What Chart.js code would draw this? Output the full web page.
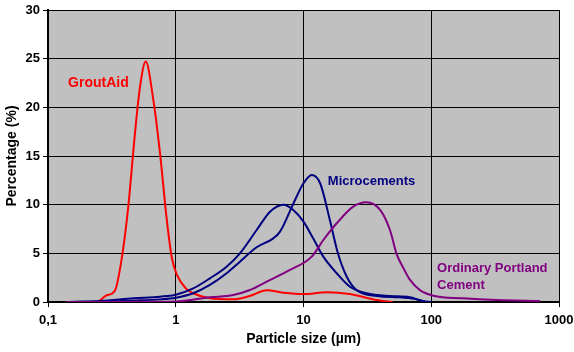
<!DOCTYPE html>
<html>
<head>
<meta charset="utf-8">
<script src="https://cdn.jsdelivr.net/npm/chart.js@4"></script>
<style>
  body { margin: 0; background: #fff; }
  #wrap { width: 574px; height: 352px; }
</style>
</head>
<body>
<div id="wrap"><canvas id="grafico" width="574" height="352"></canvas></div>
<script>
// tick values
const xTicks = [0.1, 1, 10, 100, 1000];
const yTicks = [0, 5, 10, 15, 20, 25, 30];

// GroutAid
const groutSize = [0.14, 0.24, 0.288, 0.334, 0.378, 0.425, 0.48, 0.525, 0.582, 0.667, 0.753, 0.845, 0.93, 1.02, 1.2, 1.37, 1.85, 2.8, 3.8, 5.15, 6.95, 10, 15.2, 23, 37.5, 50];
const groutPct  = [0, 0, 0.7, 1.16, 4.5, 9.8, 17.4, 22.1, 24.7, 20.8, 15.3, 8.8, 4.6, 2.8, 1.4, 0.9, 0.38, 0.27, 0.62, 1.2, 0.96, 0.82, 1.0, 0.82, 0.2, 0];

// Microcement (broad)
const microASize = [0.14, 0.255, 0.466, 0.753, 1.0, 1.37, 1.85, 2.5, 3.18, 4.3, 5.47, 6.95, 8.32, 10, 11.9, 14.3, 18.2, 23.1, 31.2, 47.5, 68, 80, 90];
const microAPct  = [0, 0.1, 0.38, 0.55, 0.75, 1.4, 2.43, 3.63, 5.0, 7.4, 9.28, 10.0, 9.46, 8.26, 6.54, 4.66, 2.95, 1.57, 0.9, 0.62, 0.5, 0.2, 0];

// Microcement (narrow)
const microBSize = [0.14, 0.3, 0.5, 0.753, 1.0, 1.37, 1.85, 2.5, 3.18, 4.3, 5.8, 6.55, 8.32, 10, 11.6, 13.5, 16.1, 18.6, 21.8, 26, 37.4, 57, 75, 90, 100];
const microBPct  = [0, 0.05, 0.15, 0.27, 0.44, 0.9, 1.75, 2.95, 4.14, 5.62, 6.54, 7.23, 10.1, 12.2, 13.05, 12.2, 8.4, 5.0, 2.6, 1.23, 0.62, 0.48, 0.3, 0.05, 0];

// Ordinary Portland Cement
const opcSize = [0.14, 0.75, 1.0, 1.85, 2.82, 3.81, 5.15, 7.84, 11.6, 14.3, 18.2, 24.5, 30.9, 39.8, 47.5, 53.7, 61, 68, 82, 104, 178, 325, 710];
const opcPct  = [0, 0.03, 0.05, 0.48, 0.72, 1.23, 2.09, 3.29, 4.66, 6.37, 8.09, 9.8, 10.25, 9.46, 7.4, 4.9, 3.4, 2.3, 1.2, 0.65, 0.38, 0.2, 0.1];

// text labels inside the plot (anchored in data units)
const etiquetas = [
  { lines: ['GroutAid'], x: 0.1436, y: 22.5, color: '#FF0000', size: 14 },
  { lines: ['Microcements'], x: 15.5, y: 12.4, color: '#000080', size: 13 },
  { lines: ['Ordinary Portland', 'Cement'], x: 111, y: 3.5, color: '#800080', size: 13 }
];

const FONT = '"Liberation Sans", Arial, sans-serif';

function puntos(xs, ys) {
  return xs.map((v, i) => ({ x: v, y: ys[i] }));
}

function serie(label, xs, ys, color) {
  return {
    label: label,
    data: puntos(xs, ys),
    borderColor: color,
    borderWidth: 2,
    pointRadius: 0,
    fill: false,
    cubicInterpolationMode: 'monotone'
  };
}

const fondo = {
  id: 'fondo',
  beforeDraw(chart) {
    const a = chart.chartArea;
    const c = chart.ctx;
    c.save();
    c.fillStyle = '#C0C0C0';
    c.fillRect(a.left, a.top, a.right - a.left, a.bottom - a.top);
    c.restore();
  }
};

const textos = {
  id: 'textos',
  afterDatasetsDraw(chart) {
    const c = chart.ctx;
    const sx = chart.scales.x, sy = chart.scales.y;
    c.save();
    c.textAlign = 'left';
    c.textBaseline = 'middle';
    etiquetas.forEach(e => {
      c.fillStyle = e.color;
      c.font = 'bold ' + e.size + 'px ' + FONT;
      const px = sx.getPixelForValue(e.x);
      const py = sy.getPixelForValue(e.y);
      e.lines.forEach((t, i) => c.fillText(t, px, py + i * 17));
    });
    c.restore();
  }
};

const ctx = document.getElementById('grafico').getContext('2d');
new Chart(ctx, {
  type: 'line',
  data: {
    datasets: [
      serie('Ordinary Portland Cement', opcSize, opcPct, '#800080'),
      serie('Microcement A', microASize, microAPct, '#000080'),
      serie('Microcement B', microBSize, microBPct, '#000080'),
      serie('GroutAid', groutSize, groutPct, '#FF0000')
    ]
  },
  options: {
    responsive: false,
    animation: false,
    layout: { padding: { top: 10, right: 15, left: 0, bottom: 0 } },
    plugins: { legend: { display: false }, tooltip: { enabled: false } },
    scales: {
      x: {
        type: 'logarithmic',
        min: 0.1,
        max: 1000,
        afterBuildTicks: s => { s.ticks = xTicks.map(v => ({ value: v })); },
        afterFit: s => { s.height = 50; s.paddingRight = 0; s.paddingLeft = 0; },
        ticks: {
          color: '#000',
          font: { family: FONT, size: 13, weight: 'bold' },
          padding: 6,
          maxRotation: 0,
          autoSkip: false,
          callback: v => String(v).replace('.', ',')
        },
        grid: { color: '#000', lineWidth: 1, tickLength: 5 },
        border: { color: '#000', width: 2 },
        title: {
          display: true,
          text: 'Particle size (µm)',
          color: '#000',
          font: { family: FONT, size: 14, weight: 'bold' },
          padding: 4
        }
      },
      y: {
        min: 0,
        max: 30,
        afterBuildTicks: s => { s.ticks = yTicks.map(v => ({ value: v })); },
        afterFit: s => { s.width = 48; s.paddingTop = 0; s.paddingBottom = 0; },
        ticks: {
          color: '#000',
          font: { family: FONT, size: 13, weight: 'bold' },
          padding: 3
        },
        grid: { color: '#000', lineWidth: 1, tickLength: 5 },
        border: { color: '#000', width: 2 },
        title: {
          display: true,
          text: 'Percentage (%)',
          color: '#000',
          font: { family: FONT, size: 14, weight: 'bold' },
          padding: 4
        }
      }
    }
  },
  plugins: [fondo, textos]
});
</script>
</body>
</html>
